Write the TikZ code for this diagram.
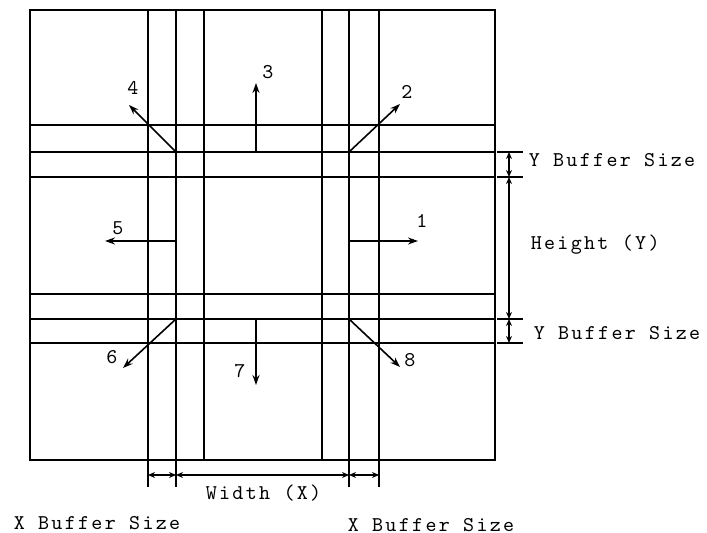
\documentclass[tikz,border=0pt]{standalone}
\usepackage{fontspec}
\newfontfamily\dimfont[LetterSpace=11]{Latin Modern Mono}
\usetikzlibrary{arrows.meta}

\begin{document}
\begin{tikzpicture}[x=0.5pt,y=-0.5pt,line width=0.8pt,>={Stealth[length=5pt,width=3.5pt]},
  dim/.style={<->,>={Stealth[length=3.5pt,width=3pt]}},
  every node/.style={font=\dimfont\fontsize{10.5}{11}\selectfont,inner sep=0pt}]
  \useasboundingbox (0,0) rectangle (707,533);
  % grid of the partition
  \draw (30,10) rectangle (495,460);
  \foreach \x in {148,176,204,322,349,379} \draw (\x,10) -- (\x,460);
  \foreach \y in {125,152,177,294,319,343} \draw (30,\y) -- (495,\y);
  % starting points on the core
  \coordinate (tl) at (176,152);
  \coordinate (tm) at (256,152);
  \coordinate (tr) at (349,152);
  \coordinate (ml) at (176,241);
  \coordinate (mr) at (349,241);
  \coordinate (bl) at (176,319);
  \coordinate (bm) at (256,319);
  \coordinate (br) at (349,319);
  % directions
  \coordinate (e1) at (418,241);
  \coordinate (e2) at (400,104);
  \coordinate (e3) at (256,83);
  \coordinate (e4) at (129,105);
  \coordinate (e5) at (105,241);
  \coordinate (e6) at (123,368);
  \coordinate (e7) at (256,385);
  \coordinate (e8) at (400,367);
  \draw[->] (mr) -- (e1);
  \draw[->] (tr) -- (e2);
  \draw[->] (tm) -- (e3);
  \draw[->] (tl) -- (e4);
  \draw[->] (ml) -- (e5);
  \draw[->] (bl) -- (e6);
  \draw[->] (bm) -- (e7);
  \draw[->] (br) -- (e8);
  \node (n1) at (422,221) {1};
  \node (n2) at (407,92) {2};
  \node (n3) at (268,72) {3};
  \node (n4) at (133,88) {4};
  \node (n5) at (118,228) {5};
  \node (n6) at (112,357) {6};
  \node (n7) at (240,371) {7};
  \node (n8) at (410,360) {8};
  % height dimensions
  \foreach \y/\n in {152/ya,177/yb,319/yc,343/yd} {
    \draw (497,\y) -- (523,\y);
    \coordinate (\n) at (509,\y);
  }
  \draw[dim] (ya) -- (yb);
  \draw[dim] (yb) -- (yc);
  \draw[dim] (yc) -- (yd);
  \node[anchor=west] (ybuf1) at (528,160) {Y Buffer Size};
  \node[anchor=west] (hgt) at (530,245) {Height (Y)};
  \node[anchor=west] (ybuf2) at (533,333) {Y Buffer Size};
  % width dimensions
  \foreach \x/\n in {148/xa,176/xb,349/xc,379/xd} {
    \draw (\x,460) -- (\x,487);
    \coordinate (\n) at (\x,475);
  }
  \draw[dim] (xa) -- (xb);
  \draw[dim] (xb) -- (xc);
  \draw[dim] (xc) -- (xd);
  \node[anchor=west] (wdt) at (205,493) {Width (X)};
  \node[anchor=west] (xbuf1) at (13,523) {X Buffer Size};
  \node[anchor=west] (xbuf2) at (347,525) {X Buffer Size};
\end{tikzpicture}
\end{document}
